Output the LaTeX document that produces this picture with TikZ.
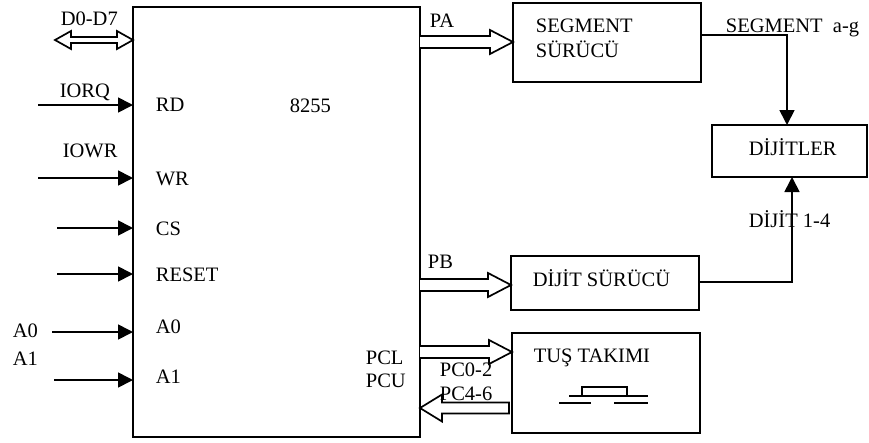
\documentclass[tikz,border=0pt]{standalone}
\usepackage{fontspec}
\setmainfont{Liberation Serif}
\usetikzlibrary{calc,arrows.meta}
\newcommand\fatright[5]{\draw[fat] let \p1=#1, \p2=#2 in (\x1,\y1+#3) -- (\x2-#5,\y1+#3) -- (\x2-#5,\y1+#4) -- (\x2,\y1) -- (\x2-#5,\y1-#4) -- (\x2-#5,\y1-#3) -- (\x1,\y1-#3);}
\newcommand\fatleft[5]{\draw[fat] let \p1=#1, \p2=#2 in (\x1,\y1+#3) -- (\x2+#5,\y1+#3) -- (\x2+#5,\y1+#4) -- (\x2,\y1) -- (\x2+#5,\y1-#4) -- (\x2+#5,\y1-#3) -- (\x1,\y1-#3) -- cycle;}
\begin{document}
\begin{tikzpicture}[x=1pt,y=-1pt,line width=1.7pt,
  box/.style={draw,line width=1.9pt,inner sep=0pt,outer sep=0pt,anchor=north west},
  lbl/.style={inner sep=0pt,anchor=base west,font=\fontsize{20.5}{24}\selectfont},
  sig/.style={-{Triangle[length=15pt,width=15pt]},line width=1.7pt},
  fat/.style={draw,line width=1.7pt,fill=white,line join=miter}]
\useasboundingbox (0,0) rectangle (869,442);

% boxes
\node[box,minimum width=287pt,minimum height=430pt] (chip) at (133,7) {};
\node[box,minimum width=188pt,minimum height=79pt] (segbox) at (513,3) {};
\node[box,minimum width=155pt,minimum height=52pt] (dijitler) at (712,125) {};
\node[box,minimum width=188pt,minimum height=54pt] (digdrv) at (511,256) {};
\node[box,minimum width=188pt,minimum height=100pt] (tus) at (512,333) {};

% left signal arrows
\coordinate (iorq) at (38,105);
\coordinate (iowr) at (38,178);
\coordinate (cs) at (57,228);
\coordinate (reset) at (57,274);
\coordinate (azero) at (52,332);
\coordinate (aone) at (54,380);
\foreach \c in {iorq,iowr,cs,reset,azero,aone}
  \draw[sig] (\c) -- (\c -| chip.west);

% data bus double arrow
\draw[fat] (55,40) -- (71,31) -- (71,37) -- (117,37) -- (117,31) -- (chip.west |- 0,40) -- (117,49) -- (117,43) -- (71,43) -- (71,49) -- cycle;

% port arrows
\coordinate (pa) at (420,42);
\coordinate (pb) at (420,285);
\coordinate (pcl) at (420,352);
\coordinate (pcu) at (509,408);
\fatright{(pa)}{(pa -| segbox.west)}{6}{12}{23}
\fatright{(pb)}{(pb -| digdrv.west)}{6}{12}{23}
\fatright{(pcl)}{(pcl -| tus.west)}{6}{12}{23}
\fatleft{(pcu)}{(pcu -| chip.east)}{5.5}{13.5}{22}

% right connectors
\coordinate (sa) at (787,35);
\draw[sig] (sa -| segbox.east) -- (sa) -- (sa |- dijitler.north);
\coordinate (db) at (792,282);
\draw[sig] (db -| digdrv.east) -- (db) -- (db |- dijitler.south);

% push button symbol
\draw (582,396) rectangle (627,387);
\draw (569,396) -- (648,396);
\draw (559,403) -- (591,403);
\draw (614,403) -- (648,403);

% labels
\node[lbl] (tD) at (60,25) {D0-D7};
\node[lbl] (tIORQ) at (59,97) {IORQ};
\node[lbl] (tRD) at (155,111) {RD};
\node[lbl] (t8255) at (289,112) {8255};
\node[lbl] (tIOWR) at (62,157) {IOWR};
\node[lbl] (tWR) at (155,185) {WR};
\node[lbl] (tCS) at (155,235) {CS};
\node[lbl] (tRESET) at (155,281) {RESET};
\node[lbl] (tA0o) at (12,337) {A0};
\node[lbl] (tA1o) at (12,365) {A1};
\node[lbl] (tA0i) at (155,333) {A0};
\node[lbl] (tA1i) at (155,383) {A1};
\node[lbl] (tPCL) at (365,364) {PCL};
\node[lbl] (tPCU) at (365,387) {PCU};
\node[lbl] (tPA) at (429,27) {PA};
\node[lbl] (tPB) at (427,268) {PB};
\node[lbl] (tSEG) at (535,32) {SEGMENT};
\node[lbl] (tSUR) at (535,57) {SÜRÜCÜ};
\node[lbl] (tSAG) at (725,32) {SEGMENT\ \ a-g};
\node[lbl] (tDIJ) at (748,155) {DİJİTLER};
\node[lbl] (tD14) at (748,227) {DİJİT 1-4};
\node[lbl] (tDS) at (532,286) {DİJİT SÜRÜCÜ};
\node[lbl] (tTUS) at (533,362) {TUŞ TAKIMI};
\node[lbl] (tPC02) at (439,376) {PC0-2};
\node[lbl] (tPC46) at (439,400) {PC4-6};
\end{tikzpicture}
\end{document}
